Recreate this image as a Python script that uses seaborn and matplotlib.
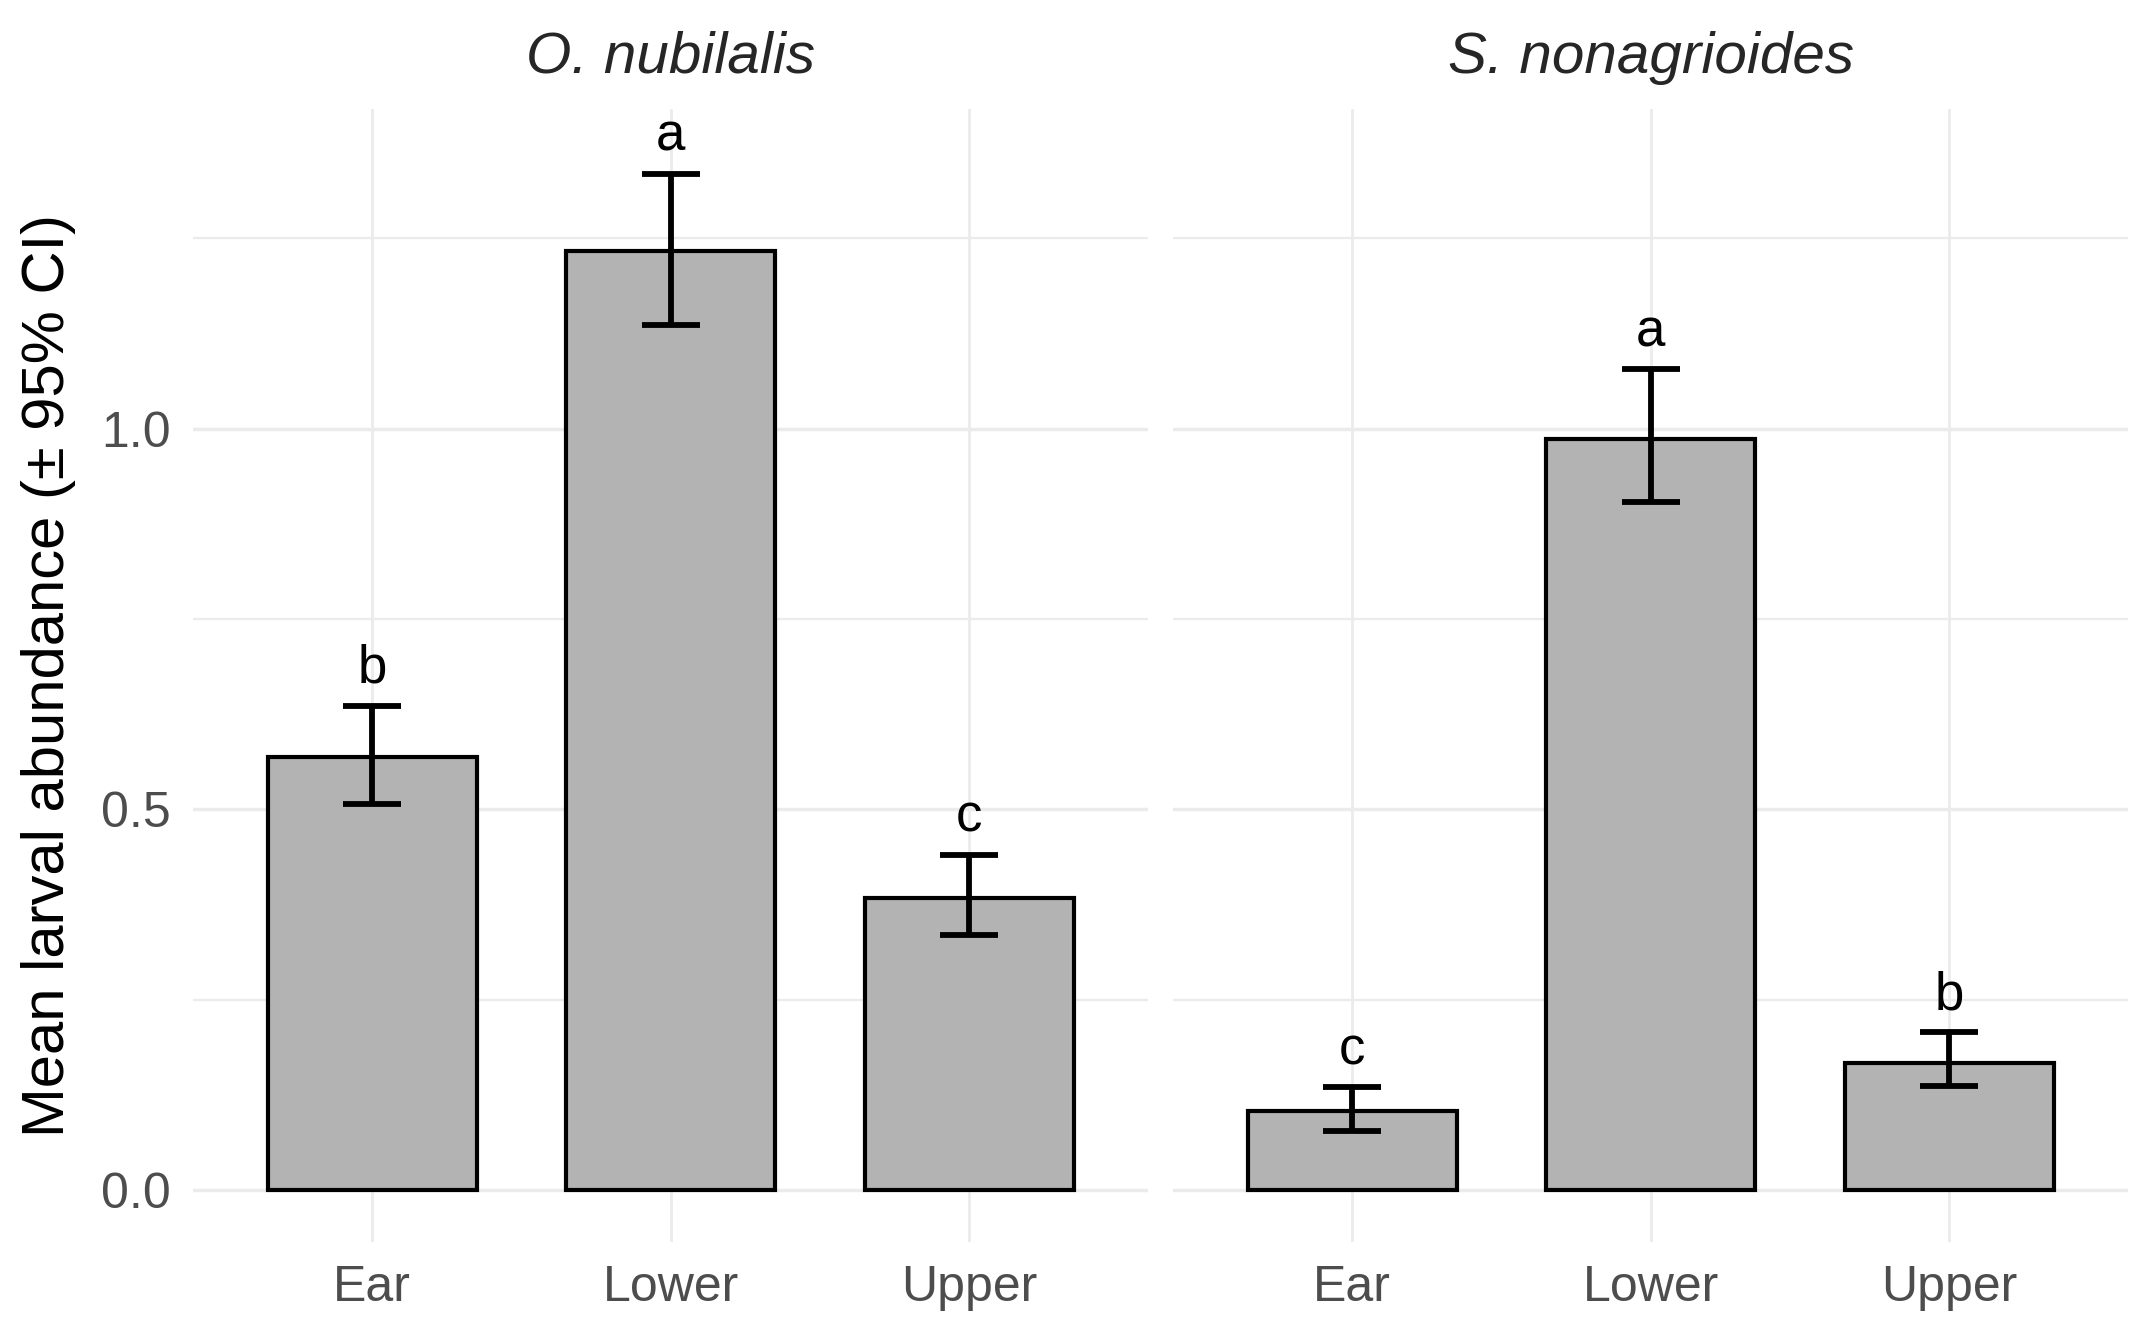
import numpy as np
import pandas as pd
import matplotlib
matplotlib.use("Agg")
import matplotlib.pyplot as plt
import seaborn as sns

# values
species = ["O. nubilalis", "S. nonagrioides"]
positions = ["Ear", "Lower", "Upper"]
mean_nub = [0.569, 1.233, 0.384]
lo_nub = [0.507, 1.136, 0.335]
hi_nub = [0.636, 1.335, 0.440]
letters_nub = ["b", "a", "c"]
mean_non = [0.104, 0.987, 0.167]
lo_non = [0.078, 0.904, 0.136]
hi_non = [0.135, 1.078, 0.207]
letters_non = ["c", "a", "b"]

df = pd.DataFrame({
    "species": np.repeat(species, 3),
    "position": positions * 2,
    "mean": mean_nub + mean_non,
    "lo": lo_nub + lo_non,
    "hi": hi_nub + hi_non,
    "letter": letters_nub + letters_non,
})

sns.set_theme(style="white")
plt.rcParams["font.family"] = ["Liberation Sans", "DejaVu Sans"]

fig = plt.figure(figsize=(21.53, 13.35), dpi=100)
ax1 = fig.add_axes([0.0897, 0.0693, 0.4437, 0.849])
ax2 = fig.add_axes([0.5448, 0.0693, 0.4437, 0.849], sharey=ax1)

grid_col = "#EBEBEB"
for ax, sp in zip([ax1, ax2], species):
    sub = df[df["species"] == sp]
    # grid first so bars sit on top
    for yv in [0, 0.25, 0.5, 0.75, 1.0, 1.25]:
        ax.axhline(yv, color=grid_col, lw=2.5 if yv in (0, 0.5, 1.0) else 1.6, zorder=0)
    for xv in range(3):
        ax.axvline(xv, color=grid_col, lw=2.0, zorder=0)
    sns.barplot(data=sub, x="position", y="mean", color="#B3B3B3", saturation=1,
                edgecolor="black", linewidth=3.0, width=0.7, errorbar=None, ax=ax, zorder=2)
    m = sub["mean"].values
    ax.errorbar(x=np.arange(3), y=m, yerr=[m - sub["lo"].values, sub["hi"].values - m],
                fmt="none", ecolor="black", elinewidth=4.2, capsize=21, capthick=4.2, zorder=3)
    for i, (h, lt) in enumerate(zip(sub["hi"].values, sub["letter"].values)):
        ax.text(i, h + 0.016, lt, ha="center", va="bottom", fontsize=38, color="black")
    ax.set_title(sp, fontsize=42, style="italic", pad=26)
    ax.set_xlim(-0.6, 2.6)
    ax.set_ylim(-0.069, 1.42)
    ax.set_xlabel("")
    ax.set_ylabel("")
    for s in ax.spines.values():
        s.set_visible(False)
    ax.tick_params(axis="both", length=0, labelsize=36, colors="#4D4D4D", pad=16)

ax1.set_yticks([0.0, 0.5, 1.0])
ax1.set_yticklabels(["0.0", "0.5", "1.0"])
ax1.set_ylabel("Mean larval abundance (\u00b1 95% CI)", fontsize=43, color="black", labelpad=18)
ax2.tick_params(axis="y", labelleft=False)

fig.savefig("out.png", dpi=100, facecolor="white")
